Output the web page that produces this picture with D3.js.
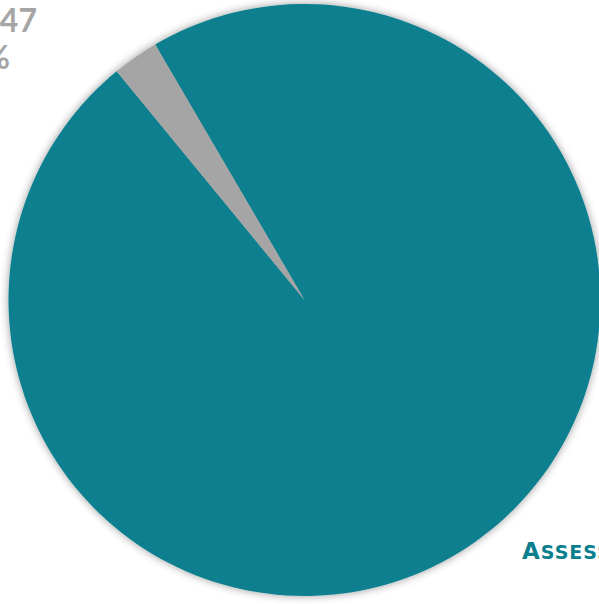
<!DOCTYPE html>
<html>
<head>
<meta charset="utf-8">
<script src="https://d3js.org/d3.v7.min.js"></script>
<style>
  html, body { margin: 0; padding: 0; background: #fff; overflow: hidden; }
</style>
</head>
<body>
<div id="chart"></div>
<script>
// data
const categories = ["Assessed", "Not assessed"];
const counts = [1810, 47];
const colors = ["#0a7f8e", "#a5a5a5"];

// size of plot
const width = 599;
const height = 604;
const cx = 304.5, cy = 300, radius = 296;

const svg = d3.select("#chart")
    .append("svg")
    .attr("width", width)
    .attr("height", height);

// soft shadow round the pie
const defs = svg.append("defs");
const filter = defs.append("filter")
    .attr("id", "shadow")
    .attr("x", "-10%").attr("y", "-10%")
    .attr("width", "120%").attr("height", "120%");
filter.append("feDropShadow")
    .attr("dx", 0).attr("dy", 0)
    .attr("stdDeviation", 4)
    .attr("flood-color", "#000")
    .attr("flood-opacity", 0.4);

const data = categories.map((c, i) => ({name: c, value: counts[i], color: colors[i]}));
const total = d3.sum(counts);

// first slice starts a little left of 12 o'clock
const start = -30.3 * Math.PI / 180;
const pie = d3.pie()
    .sort(null)
    .value(d => d.value)
    .startAngle(start)
    .endAngle(start + 2 * Math.PI);

const arc = d3.arc().innerRadius(0).outerRadius(radius);

const g = svg.append("g")
    .attr("transform", `translate(${cx},${cy})`)
    .attr("filter", "url(#shadow)");

g.selectAll("path")
    .data(pie(data))
    .join("path")
    .attr("d", arc)
    .attr("fill", d => d.data.color);

// labels (they run off the edge of the picture, as in the original)
const pct = d => Math.round(d.value / total * 100) + "%";

const grey = svg.append("text")
    .attr("font-family", "Lato, sans-serif")
    .attr("font-weight", 700)
    .attr("font-size", 32)
    .attr("fill", "#a5a5a5")
    .attr("text-anchor", "end");
grey.append("tspan").attr("x", 37).attr("y", 32)
    .text(data[1].name + "; " + data[1].value);
grey.append("tspan").attr("x", 10).attr("y", 69)
    .text(pct(data[1]));

// teal label in small caps: first letter big, the rest smaller capitals
const tealLabel = data[0].name + "; " + data[0].value + "; " + pct(data[0]);
const teal = svg.append("text")
    .attr("x", 522)
    .attr("y", 559)
    .attr("font-family", "'DejaVu Sans', sans-serif")
    .attr("font-weight", 700)
    .attr("fill", "#0a7f8e");
teal.append("tspan")
    .attr("font-size", 23)
    .text(tealLabel.charAt(0).toUpperCase());
teal.append("tspan")
    .attr("font-size", 19)
    .attr("letter-spacing", 1)
    .attr("dx", 1)
    .text(tealLabel.slice(1).toUpperCase());
</script>
</body>
</html>
